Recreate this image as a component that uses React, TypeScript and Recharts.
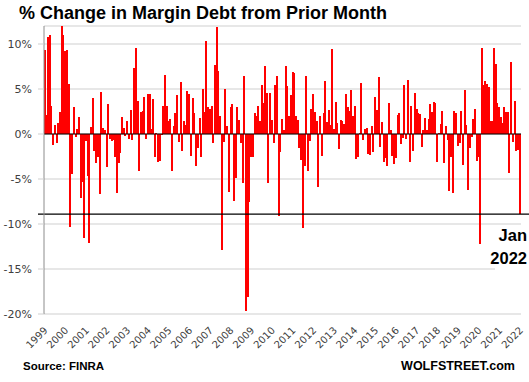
import React from 'react';
import { BarChart, Bar, XAxis, YAxis, CartesianGrid, ReferenceLine } from 'recharts';

const YEARS = ['1999', '2000', '2001', '2002', '2003', '2004', '2005', '2006', '2007', '2008', '2009', '2010',
  '2011', '2012', '2013', '2014', '2015', '2016', '2017', '2018', '2019', '2020', '2021', '2022'];
const MONTHS = ['Jan', 'Feb', 'Mar', 'Apr', 'May', 'Jun', 'Jul', 'Aug', 'Sep', 'Oct', 'Nov', 'Dec'];

// monthly % change (Jan 1999 .. Jan 2022)
const PCT_1999_2002 = [
  9.3, 2.1, 10.8, 11.0, 3.1, -1.2, 1.0, -1.0, 1.2, 2.4,
  12.0, 11.0, 9.2, 9.3, 5.6, -10.3, -4.4, 3.0, -0.3, 0.6,
  1.9, -7.1, -5.3, -11.6, -0.8, -4.7, -12.1, 0.8, 4.0, -1.9,
  -3.2, -2.5, -6.7, 4.7, 0.7, 0.4, -3.7, 3.3, -0.6, -0.8,
  -0.7, -2.5, -6.6, -3.2, -2.1, 1.9,
];
const PCT_2002_2006 = [
  0.7, -0.2, 1.5, -0.6, 2.7, -0.7, 7.3, 9.6, 3.7, -4.1,
  2.4, 2.6, 4.1, -0.6, 4.5, 4.4, 0.6, 3.9, -2.5, 0.1,
  -3.1, -3.0, -0.1, 3.1, 6.6, 3.1, 1.5, 1.7, -4.1, 0.9,
  2.3, 4.3, -0.9, 5.8, -1.9, 1.4, 1.0, 4.8, 4.5, -2.4,
  4.0, 2.3, -3.6, -1.6, 1.8, -2.6, 5.0,
];
const PCT_2006_2010 = [
  2.4, 10.3, 3.0, 2.8, 3.1, -1.0, 7.7, 11.85, 7.0, 2.0,
  -12.9, -0.9, 5.0, 0.9, -6.4, 3.0, 3.3, -7.4, -4.9, 3.0,
  1.6, -1.0, -5.4, 6.5, -19.7, -18.1, -7.6, -2.5, -2.6, 2.3,
  2.0, 3.1, 1.4, 5.4, 3.4, 7.6, 4.6, -5.4, 4.6, 1.6,
  -1.0, 5.5, 6.5, -9.1, -2.0, 1.7, 0.4,
];
const PCT_2010_2014 = [
  7.6, 5.3, 2.0, 4.3, 6.9, 6.8, 2.0, 1.6, -1.5, -2.9,
  -10.4, -3.5, 6.4, -4.1, -0.8, 2.8, 4.4, 2.5, 1.4, -5.9,
  2.0, -2.4, 2.3, 5.9, 1.3, 2.7, 1.0, 9.4, 0.6, 3.6,
  1.2, -1.7, 1.6, 1.4, 1.1, 4.5, 3.0, 2.6, 4.9, 2.0,
  3.1, -2.8, -2.6, 0.1, 5.7, -0.7,
];
const PCT_2014_2018 = [
  0.6, 0.7, -2.2, -2.3, 0.85, -2.0, 4.1, 2.7, 6.3, -1.4,
  1.3, -3.1, -2.7, -3.6, 3.4, 0.4, -2.4, -3.3, -2.7, 2.1,
  2.3, -1.1, -0.4, 5.4, -0.6, 6.0, -3.1, 3.1, -1.9, 4.6,
  2.8, 2.3, 2.2, -1.4, 0.4, 1.8, 0.5, 1.7, 3.3, 2.5,
  3.6, 3.4, -3.1, 0.1, 1.1, 2.6, -3.2,
];
const PCT_2018_2022 = [
  0.9, -0.7, -6.3, -2.5, -6.5, 2.6, 2.3, -1.3, -1.0, 2.6,
  -3.4, 4.9, 1.0, -6.2, -1.6, -0.3, 1.7, 2.8, -3.0, -2.5,
  -12.2, 9.6, 5.4, 5.9, 5.6, 5.2, 1.5, 1.5, 9.6, 7.8,
  3.5, 3.0, 1.9, 1.2, 3.0, 2.4, 2.4, -4.3, 8.0,
  -0.9, 3.7, -1.9, -1.8, -8.9,
];
const PCT = [...PCT_1999_2002, ...PCT_2002_2006, ...PCT_2006_2010, ...PCT_2010_2014, ...PCT_2014_2018, ...PCT_2018_2022];

const Y_TICKS = [-20, -15, -10, -5, 0, 5, 10];
const LATEST = -8.9;

const MONTH_KEYS = YEARS.flatMap((y) => MONTHS.map((m) => `${m} ${y}`)).slice(0, PCT.length);
const data = MONTH_KEYS.map((month, i) => ({ month, pct: PCT[i] }));
const JAN_TICKS = YEARS.map((y) => `Jan ${y}`);

const LABEL = '#404040';
const RED = '#ff0000';
const BAR_W = 1.9;

const YearTick = ({ x, y, payload }: any) => {
  const ax = x + 3.5;
  const ay = y + 9;
  return (
    <text x={ax} y={ay} transform={`rotate(-45 ${ax} ${ay})`} textAnchor="end"
      fontSize={10} fill={LABEL} fontFamily="DejaVu Sans">
      {String(payload.value).slice(4)}
    </text>
  );
};

// recharts rounds the band width down to 1px, so draw each bar a touch wider
// and snap it to whole pixels so neighbouring bars join up like the original
const MonthBar = (p: any) => {
  const top = Math.min(p.y, p.y + p.height);
  const h = Math.abs(p.height);
  const left = Math.floor(p.x + p.width / 2 - BAR_W / 2);
  return <rect x={left} y={top} width={2} height={h} fill={RED} shapeRendering="crispEdges" />;
};

// black line for the latest value, runs a bit past the plot on both sides
const LatestLine = (p: any) => (
  <line x1={p.x1 - 6} y1={p.y1} x2={529} y2={p.y2} stroke="#000" strokeWidth={1.3} />
);

export default function App() {
  return (
    <div style={{ position: 'absolute', left: 0, top: 0, width: 529, height: 382, background: '#fff', fontFamily: 'Liberation Sans' }}>
      <BarChart width={529} height={382} data={data} barCategoryGap={0} barGap={0}
        margin={{ top: 26, right: 8, left: 0, bottom: 38 }}>
        <CartesianGrid vertical={false} stroke="#cfcfcf" />
        <XAxis dataKey="month" ticks={JAN_TICKS} interval={0} tick={<YearTick />}
          axisLine={false} tickLine={false} height={30} />
        <YAxis domain={[-20, 12]} ticks={Y_TICKS} width={44} tickSize={6} tickMargin={6}
          tickFormatter={(v) => `${v}%`} axisLine={{ stroke: '#8c8c8c' }} tickLine={{ stroke: '#cfcfcf' }}
          tick={{ fill: LABEL, fontSize: 11, fontFamily: 'DejaVu Sans' }} allowDataOverflow />
        <Bar dataKey="pct" fill={RED} shape={MonthBar} isAnimationActive={false} />
        <ReferenceLine y={0} stroke="#000" strokeWidth={1.2} />
        <ReferenceLine y={LATEST} shape={LatestLine} />
      </BarChart>
      <div style={{ position: 'absolute', left: 19, top: 3, fontSize: 18, fontWeight: 700, color: '#000', whiteSpace: 'nowrap' }}>
        % Change in Margin Debt from Prior Month
      </div>
      <div style={{ position: 'absolute', left: 495, top: 227, width: 34, height: 44, background: '#fff' }} />
      <div style={{ position: 'absolute', right: 2, top: 224, textAlign: 'right', fontSize: 16.5, fontWeight: 700, lineHeight: '23px', color: '#000' }}>
        Jan<br />2022
      </div>
      <div style={{ position: 'absolute', left: 23, top: 360, fontSize: 11.5, fontWeight: 700, color: '#000' }}>
        Source: FINRA
      </div>
      <div style={{ position: 'absolute', right: 14, top: 359, fontSize: 12.5, fontWeight: 700, color: '#000' }}>
        WOLFSTREET.com
      </div>
    </div>
  );
}
